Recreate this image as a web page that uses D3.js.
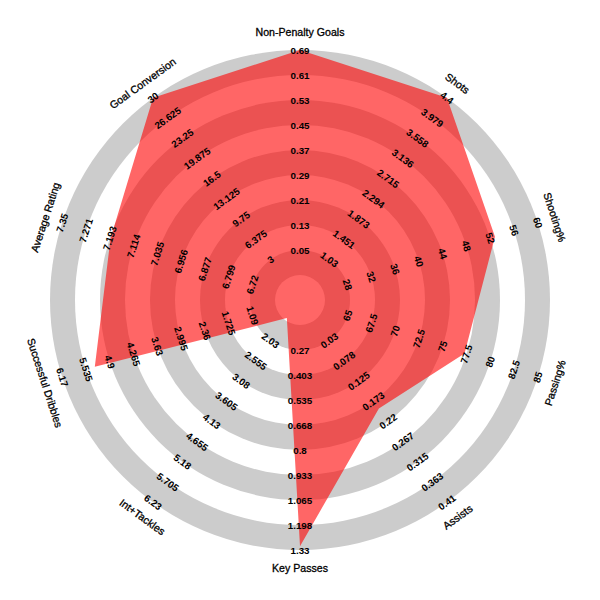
<!DOCTYPE html>
<html>
<head>
<meta charset="utf-8">
<script src="https://cdn.jsdelivr.net/npm/d3@7"></script>
<style>
  html, body { margin: 0; padding: 0; background: #ffffff; }
  svg { display: block; }
  text { font-family: "Liberation Sans", Arial, sans-serif; fill: #000; }
</style>
</head>
<body>
<svg id="chart" width="600" height="600"></svg>
<script>
// ---- data ----
const params = ["Non-Penalty Goals", "Shots", "Shooting%", "Passing%", "Assists",
                "Key Passes", "Int+Tackles", "Successful Dribbles", "Average Rating", "Goal Conversion"];
const minRange = [0.05, 1.03, 28, 65, 0.03, 0.27, 2.03, 1.09, 6.72, 3];
const maxRange = [0.69, 4.4, 60, 85, 0.41, 1.33, 6.23, 6.17, 7.35, 30];
const values   = [0.69, 4.4, 52.8, 77.3, 0.19, 1.31, 1.45, 5.3, 7.19, 30];
const rangeLabels = [
  ["0.05", "0.13", "0.21", "0.29", "0.37", "0.45", "0.53", "0.61", "0.69"],
  ["1.03", "1.451", "1.873", "2.294", "2.715", "3.136", "3.558", "3.979", "4.4"],
  ["28", "32", "36", "40", "44", "48", "52", "56", "60"],
  ["65", "67.5", "70", "72.5", "75", "77.5", "80", "82.5", "85"],
  ["0.03", "0.078", "0.125", "0.173", "0.22", "0.267", "0.315", "0.363", "0.41"],
  ["0.27", "0.403", "0.535", "0.668", "0.8", "0.933", "1.065", "1.198", "1.33"],
  ["2.03", "2.555", "3.08", "3.605", "4.13", "4.655", "5.18", "5.705", "6.23"],
  ["1.09", "1.725", "2.36", "2.995", "3.63", "4.265", "4.9", "5.535", "6.17"],
  ["6.72", "6.799", "6.877", "6.956", "7.035", "7.114", "7.193", "7.271", "7.35"],
  ["3", "6.375", "9.75", "13.125", "16.5", "19.875", "23.25", "26.625", "30"]
];
const ringCount = [0, 1, 2, 3, 4, 5, 6, 7, 8, 9];

// ---- layout ----
const cx = 300, cy = 300;
const unit = d3.scaleLinear().domain([0, 10]).range([0, 250]);
const n = params.length;
const angle = d3.scaleLinear().domain([0, n]).range([0, 2 * Math.PI]);
const scales = params.map((p, i) =>
  d3.scaleLinear().domain([minRange[i], maxRange[i]]).range([unit(2), unit(10)]));

const svg = d3.select("#chart");
const g = svg.append("g").attr("transform", `translate(${cx},${cy})`);

// rings (outermost first)
g.selectAll("circle.ring")
  .data(ringCount.slice().reverse())
  .join("circle")
  .attr("class", "ring")
  .attr("r", k => unit(k + 1))
  .attr("fill", k => (k % 2 === 1 ? "#cccccc" : "#ffffff"));

// radar polygon
const line = d3.lineRadial()
  .angle((d, i) => angle(i))
  .radius((d, i) => scales[i](d))
  .curve(d3.curveLinearClosed);
g.append("path")
  .attr("d", line(values))
  .attr("fill", "#ff0000")
  .attr("fill-opacity", 0.6)
  .attr("stroke", "none");

function pos(i, r) {
  const a = angle(i);
  return [r * Math.sin(a), -r * Math.cos(a)];
}
function rot(i) {
  let deg = angle(i) * 180 / Math.PI;
  while (deg > 90) deg -= 180;
  return deg;
}

// range labels
params.forEach((p, i) => {
  g.selectAll(null)
    .data(rangeLabels[i])
    .join("text")
    .attr("transform", (d, j) => {
      const v = minRange[i] + (maxRange[i] - minRange[i]) * j / 8;
      const [x, y] = pos(i, scales[i](v));
      return `translate(${x},${y}) rotate(${rot(i)})`;
    })
    .attr("text-anchor", "middle")
    .attr("dominant-baseline", "central")
    .style("font-size", "9.8px")
    .style("font-weight", "bold")
    .text(d => d);
});

// parameter labels
g.selectAll("text.param")
  .data(params)
  .join("text")
  .attr("class", "param")
  .attr("transform", (d, i) => {
    const [x, y] = pos(i, unit(10.72));
    return `translate(${x},${y}) rotate(${rot(i)})`;
  })
  .attr("text-anchor", "middle")
  .attr("dominant-baseline", "central")
  .style("font-size", "10.6px")
  .style("stroke", "#000")
  .style("stroke-width", "0.3px")
  .text(d => d);
</script>
</body>
</html>
